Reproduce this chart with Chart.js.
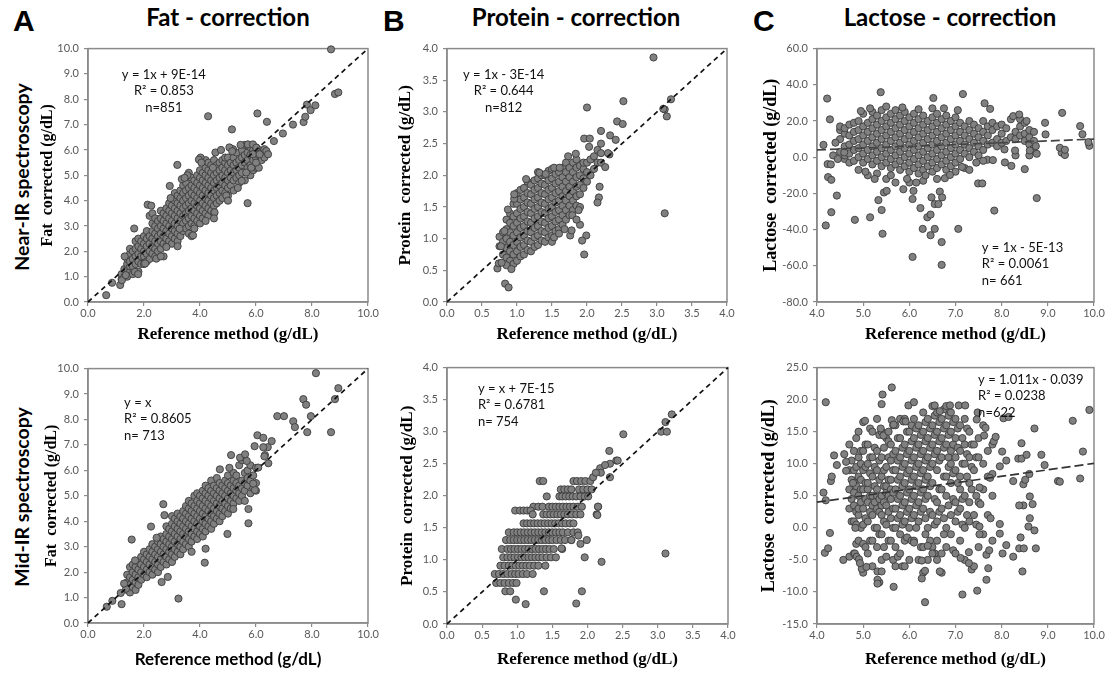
<!DOCTYPE html>
<html><head><meta charset="utf-8">
<script src="https://cdn.jsdelivr.net/npm/chart.js@4.4.1/dist/chart.umd.min.js"></script>
<style>
html,body{margin:0;padding:0;background:#fff;width:1109px;height:674px;overflow:hidden;position:relative}
canvas{position:absolute}
.lbl{position:absolute;white-space:nowrap;color:#000}
.letter{font:bold 30px "Liberation Sans",Arial,sans-serif;line-height:30px}
.title{font:bold 24px Lato,sans-serif;line-height:24px;text-align:center;width:400px}
.row{font:bold 19.5px Lato,sans-serif;text-align:center;width:300px;height:24px;line-height:24px;transform:rotate(-90deg)}
</style></head><body>
<div class="lbl letter" style="left:13px;top:6px">A</div>
<div class="lbl letter" style="left:383px;top:6px">B</div>
<div class="lbl letter" style="left:753px;top:6px">C</div>
<div class="lbl title" style="left:28px;top:5px">Fat - correction</div>
<div class="lbl title" style="left:376px;top:5px">Protein - correction</div>
<div class="lbl title" style="left:750px;top:5px">Lactose - correction</div>
<div class="lbl row" style="left:-128px;top:165px">Near-IR spectroscopy</div>
<div class="lbl row" style="left:-128px;top:485px">Mid-IR spectroscopy</div>
<canvas id="ta"></canvas><canvas id="tb"></canvas><canvas id="tc"></canvas>
<canvas id="ba"></canvas><canvas id="bb"></canvas><canvas id="bc"></canvas>
<script>
// ---------- tick labels ----------
const fatTicksX = [0,2,4,6,8,10];
const fatTicksY = [0,1,2,3,4,5,6,7,8,9,10];
const protTicks = [0,0.5,1,1.5,2,2.5,3,3.5,4];
const lacTicksX = [4,5,6,7,8,9,10];
const lacNirTicksY = [-80,-60,-40,-20,0,20,40,60];
const lacMirTicksY = [-15,-10,-5,0,5,10,15,20,25];

// ---------- fit lines ----------
const fatNirFit = [[0,0],[10,10]];
const protNirFit = [[0,0],[4,4]];
const lacNirFit = [[4,4],[10,10]];
const fatMirFit = [[0,0],[10,10]];
const protMirFit = [[0,0],[4,4]];
const lacMirFit = [[4,4.0],[10,10.07]];

// ---------- annotations ----------
const fatNirNote = ["y = 1x + 9E-14","R\u00b2 = 0.853","n=851"];
const protNirNote = ["y = 1x - 3E-14","R\u00b2 = 0.644","n=812"];
const lacNirNote = ["y = 1x - 5E-13","R\u00b2 = 0.0061","n= 661"];
const fatMirNote = ["y = x","R\u00b2 = 0.8605","n= 713"];
const protMirNote = ["y = x + 7E-15","R\u00b2 = 0.6781","n= 754"];
const lacMirNote = ["y = 1.011x - 0.039","R\u00b2 = 0.0238","n=622"];

// ---------- Fat, near-IR : columns [x, y1, y2, ...] ----------
const fatNirCols = [
[1.2,0.9,1.1],[1.3,1.0,1.3],[1.4,1.0,1.3,1.5,1.7],[1.5,1.2,1.4,1.6,1.9,2.1],[1.6,1.1,1.4,1.7,2.0],
[1.7,1.5,1.8,2.1,2.4],[1.8,1.2,1.6,1.9,2.2,2.5],[1.9,1.5,1.8,2.1,2.4],[2.0,1.5,1.8,2.0,2.3,2.6],
[2.1,1.6,1.9,2.2,2.5,2.8],[2.2,1.7,2.0,2.3,2.6,3.4],[2.3,1.9,2.2,2.5,2.8,3.1,3.5],[2.4,1.8,2.1,2.4,2.7,3.0,3.3],
[2.5,2.0,2.3,2.6,2.9,3.2],[2.6,2.1,2.4,2.7,3.0,3.3,3.6],[2.7,1.8,2.3,2.6,2.9,3.2,3.5],[2.8,2.2,2.5,2.8,3.1,3.4,3.7],
[2.9,2.4,2.7,3.0,3.3,3.6,3.9],[3.0,2.3,2.6,2.9,3.2,3.5,3.8,4.1],[3.1,2.5,2.8,3.1,3.4,3.7,4.0,4.3],
[3.2,2.4,2.7,3.0,3.3,3.6,3.9,4.2],[3.3,2.6,2.9,3.2,3.5,3.8,4.1,4.4],[3.4,2.8,3.1,3.4,3.7,4.0,4.3,4.6],
[3.5,2.9,3.2,3.5,3.8,4.1,4.4,4.7],[3.6,2.7,3.0,3.3,3.6,3.9,4.2,4.5,5.1],[3.7,2.6,3.1,3.4,3.7,4.0,4.3,4.6,4.9],
[3.8,3.0,3.3,3.6,3.9,4.2,4.5,4.8],[3.9,3.2,3.5,3.8,4.1,4.4,4.7,5.0],[4.0,3.1,3.4,3.7,4.0,4.3,4.6,4.9,5.2],
[4.1,3.3,3.6,3.9,4.2,4.5,4.8,5.1],[4.2,3.5,3.8,4.1,4.4,4.7,5.0,5.3,5.6],[4.3,3.4,3.7,4.0,4.3,4.6,4.9,5.2,5.5],
[4.4,3.6,3.9,4.2,4.5,4.8,5.1,5.4],[4.5,3.5,3.8,4.1,4.4,4.7,5.0,5.3,5.6],[4.6,3.9,4.2,4.5,4.8,5.1,5.4],
[4.7,4.0,4.3,4.6,4.9,5.2,5.5],[4.8,4.1,4.4,4.7,5.0,5.3,5.6],[4.9,4.3,4.6,4.9,5.2,5.5,5.7],
[5.0,4.2,4.5,4.8,5.1,5.4,5.7],[5.1,4.6,4.9,5.2,5.5],[5.2,4.4,4.8,5.1,5.4,5.7],[5.3,4.9,5.2,5.5,5.9],
[5.4,4.7,5.0,5.3,5.6],[5.5,5.1,5.4,5.7,6.0],[5.6,4.8,5.5,5.8,6.2],[5.7,5.3,5.6,5.9,6.2],
[5.8,5.0,5.4,5.8,6.1],[5.9,5.2,5.6,6.0],[6.0,5.3,5.7,6.1],[6.1,5.3,5.8,6.0],[6.2,5.6,5.9],[6.3,5.7,5.95]
];
const fatNirOut = [
[0.65,0.27],[0.86,0.76],[1.15,0.67],[1.21,0.86],[1.35,1.06],[1.31,1.8],[1.65,2.9],[2.13,3.84],[2.26,3.8],
[2.92,4.58],[3.19,5.41],[4.02,5.7],[4.29,7.33],[5.14,6.81],[5.49,4.78],[5.7,3.9],[6.05,7.44],[6.39,7.11],
[6.64,6.35],[6.96,6.65],[7.32,7.0],[7.7,7.1],[7.76,7.31],[7.82,7.79],[7.95,7.57],[8.12,7.76],[8.68,9.97],
[8.82,8.21],[8.94,8.27],[3.96,5.62],[4.46,5.3],[5.18,6.03],[5.71,6.22],[5.89,6.22],[6.01,6.09],[5.89,5.83],
[6.13,5.83],[6.3,6.03],[6.37,5.96],[4.94,4.2],[4.52,3.54],[3.75,2.63],[3.27,2.89],[2.44,1.71],[2.04,1.52],
[1.67,1.19],[1.79,1.1],[2.8,2.17],[5.65,5.11],[5.83,5.3],[6.0,5.5],[6.43,5.83],
[3.35,4.85],[3.55,5.0],[4.05,5.5],[4.55,5.9],[4.75,6.0],[5.05,6.1],[4.5,3.3],[5.0,4.0],[5.35,4.5],
[2.6,1.8],[3.2,2.2],[3.8,2.9],[4.2,3.2],[5.15,5.95],[5.45,6.2],[2.95,4.1],[3.45,4.9]
];

// ---------- Protein, near-IR ----------
const protNirCols = [
[0.75,0.88,1.03],[0.8,0.75,0.95,1.1],[0.85,0.7,0.85,1.0,1.15,1.3],[0.9,0.65,0.8,0.95,1.1,1.25,1.4],
[0.95,0.6,0.75,0.9,1.05,1.2,1.35,1.55],[1.0,0.65,0.8,0.95,1.1,1.25,1.4,1.55,1.72],
[1.05,0.72,0.87,1.02,1.17,1.32,1.47,1.62,1.77],[1.1,0.75,0.9,1.05,1.2,1.35,1.5,1.65,1.8],
[1.15,0.82,0.97,1.12,1.27,1.42,1.57,1.72,1.9],[1.2,0.8,0.95,1.1,1.25,1.4,1.55,1.7,1.85],
[1.25,0.87,1.02,1.17,1.32,1.47,1.62,1.77,1.92],[1.3,0.9,1.05,1.2,1.35,1.5,1.65,1.8,1.95,2.05],
[1.35,0.97,1.12,1.27,1.42,1.57,1.72,1.87,2.0],[1.4,0.95,1.1,1.25,1.4,1.55,1.7,1.85,2.0],
[1.45,1.02,1.17,1.32,1.47,1.62,1.77,1.92,2.07],[1.5,0.95,1.05,1.2,1.35,1.5,1.65,1.8,1.95,2.1],
[1.55,1.12,1.27,1.42,1.57,1.72,1.87,2.02],[1.6,1.15,1.3,1.45,1.6,1.75,1.9,2.05],
[1.65,1.22,1.37,1.52,1.67,1.82,1.97,2.12],[1.7,1.3,1.45,1.6,1.75,1.9,2.05,2.2],
[1.75,1.37,1.52,1.67,1.82,1.97,2.12],[1.8,1.45,1.6,1.75,1.9,2.05,2.2],
[1.85,1.52,1.67,1.82,1.97,2.12,2.25],[1.9,1.5,1.7,1.85,2.0,2.15],[1.95,1.8,1.95,2.1,2.2],
[2.0,1.9,2.05,2.2],[2.05,2.0,2.25],[2.1,2.1,2.3],[2.15,2.2,2.4],[2.2,2.2,2.35,2.5]
];
const protNirOut = [
[0.83,0.29],[0.88,0.23],[0.72,0.53],[0.74,0.61],[0.77,0.88],[0.87,1.46],[0.96,1.63],[0.96,1.7],[1.13,1.94],
[1.32,2.04],[1.41,2.02],[1.53,2.12],[1.61,2.12],[1.73,2.3],[1.84,2.34],[1.96,2.58],[2.04,2.58],[2.03,2.45],
[2.33,2.63],[2.43,2.85],[2.51,2.81],[2.41,2.56],[2.32,2.33],[2.26,2.13],[2.18,1.82],[2.17,1.65],[2.15,1.57],
[1.99,1.05],[1.93,0.97],[1.96,0.75],[1.76,1.05],[1.78,1.13],[1.79,1.37],[1.9,1.22],[3.11,1.4],[3.11,3.04],
[3.14,2.93],[2.95,3.86],[3.09,3.05],[3.2,3.2],[2.0,3.07],[2.52,3.17],[2.2,2.7],[2.3,2.35],[0.85,0.58],
[0.92,0.52],[0.78,0.62],[0.82,1.12],[1.53,1.02],[1.6,1.08],[1.68,1.15],[1.85,1.3],[1.88,1.45]
];

// ---------- Lactose, near-IR ----------
const lacNirCols = [
[4.5,3,10,15,17],[4.6,-1,1,6,13,16],[4.7,-3,2,7,12,18],[4.8,-2,4,9,14,19],[4.9,-7,0,5,10,15,20],
[5.0,-3,2,7,12,17,24],[5.1,-10,-1,4,9,14,19],[5.2,-4,1,6,11,16,21,25],[5.3,-9,-2,3,8,13,18,23],
[5.4,-5,0,5,10,15,20,26],[5.5,-12,-3,2,7,12,17,22],[5.6,-6,-1,4,9,14,19,24],[5.7,-14,-4,1,6,11,16,21,26],
[5.8,-7,-2,3,8,13,18,23],[5.9,-5,0,5,10,15,20,25],[6.0,-14,-8,-3,2,7,12,17,22],[6.1,-6,-1,4,9,14,19,24],
[6.2,-9,-4,1,6,11,16,21],[6.3,-13,-7,-2,3,8,13,18,23],[6.4,-5,0,5,10,15,20],[6.5,-8,-3,2,7,12,17,22,27],
[6.6,-6,-1,4,9,14,19,24],[6.7,-4,1,6,11,16,21],[6.8,-7,-2,3,8,13,18,23],[6.9,-5,0,5,10,15,20],
[7.0,-8,-3,2,7,12,17,22],[7.1,-1,4,9,14,19],[7.2,-6,2,7,12,17],[7.3,0,5,10,15,20],[7.4,3,8,13,18],
[7.5,1,6,11,16],[7.6,4,9,14,20],[7.7,7,12,17],[7.8,8,15,19],[7.9,6,10,17],[8.0,8,13,18],[8.1,9,16],
[8.2,11,21],[8.3,1,10,14],[8.4,12,17,21],[8.5,9,13,19],[8.6,1,7,11,15],[8.7,9,14]
];
const lacNirOut = [
[4.22,32.4],[4.28,20.9],[5.38,35.9],[6.52,32.7],[7.16,34.9],[7.63,29.8],[7.75,26.7],[9.31,24.5],[9.7,17.2],
[9.75,12.7],[9.9,6.3],[8.94,19.0],[8.25,22.7],[8.38,23.6],[8.54,20.0],[9.3,2.5],[9.37,1.2],[4.14,6.8],
[4.19,-37.7],[4.31,-30.4],[4.24,-11.0],[4.31,-12.5],[4.23,-3.8],[4.43,-21.2],[4.82,-34.6],[5.15,-33.2],
[5.42,-42.3],[5.4,-29.2],[5.33,-23.7],[5.45,-19.5],[5.51,-18.6],[5.87,-17.7],[6.09,-18.6],[6.07,-55.1],
[6.07,-23.1],[6.24,-28.1],[6.29,-39.6],[6.39,-33.2],[6.46,-31.7],[6.46,-43.1],[6.55,-39.6],[6.7,-59.5],
[6.7,-46.9],[6.66,-19.0],[6.71,-22.2],[7.06,-39.6],[6.55,-25.9],[6.48,-22.2],[6.63,-25.9],[6.77,-11.6],
[6.88,-9.8],[7.14,-5.4],[7.49,-14.5],[7.58,-14.5],[7.84,-29.5],[7.69,-1.4],[7.81,-1.6],[8.07,-2.9],
[8.21,-4.8],[8.5,-6.6],[8.76,-22.6],[8.68,4.6],[8.74,6.1],[8.61,3.7],[8.76,1.9],[8.06,4.3],[8.29,3.7],
[8.95,12.6],[9.26,5.2],[9.37,4.1],[9.88,8.3],[4.35,1.0],[4.4,8.0],[4.45,-1.0],[4.3,-4.0],[4.59,2.6],
[5.05,-8],[5.25,-12],[5.6,-10],[5.95,-12],[6.15,-14],[6.35,-10],[6.6,-12],[7.3,-7],[7.45,-3],[7.6,-2],
[5.15,27],[5.5,28],[5.85,27.5],[6.2,26.5],[6.75,27],[7.05,26],[4.95,25.5]
];

// ---------- Fat, mid-IR ----------
const fatMirCols = [
[1.4,1.3,1.6,1.9],[1.5,1.2,1.5,1.8,2.2],[1.6,1.4,1.7,2.0,2.3],[1.7,1.3,1.6,1.9,2.2],[1.8,1.5,1.8,2.1,2.4],
[1.9,1.7,2.0,2.3,2.6],[2.0,1.9,2.2,2.5,2.8],[2.1,1.8,2.1,2.4,2.7],[2.2,2.0,2.3,2.6,2.9],
[2.3,1.9,2.2,2.5,2.8,3.1],[2.4,2.1,2.4,2.7,3.0],[2.5,2.0,2.3,2.6,2.9,3.2],[2.6,2.2,2.5,2.8,3.1,3.4],
[2.7,2.4,2.7,3.0,3.3],[2.8,2.3,2.6,2.9,3.2,3.5,3.8],[2.9,2.5,2.8,3.1,3.4,3.7],[3.0,2.4,2.7,3.0,3.3,3.6,3.9,4.2],
[3.1,2.6,2.9,3.2,3.5,3.8,4.1],[3.2,2.8,3.1,3.4,3.7,4.0,4.3],[3.3,2.7,3.0,3.3,3.6,3.9,4.2],
[3.4,2.9,3.2,3.5,3.8,4.1,4.4],[3.5,3.1,3.4,3.7,4.0,4.3,4.6],[3.6,3.0,3.3,3.6,3.9,4.2,4.5,4.8],
[3.7,2.8,3.2,3.5,3.8,4.1,4.4,4.7],[3.8,3.4,3.7,4.0,4.3,4.6,5.0],[3.9,3.3,3.6,3.9,4.2,4.5,4.8,5.1],
[4.0,3.5,3.8,4.1,4.4,4.7,5.0],[4.1,3.4,3.7,4.0,4.3,4.6,4.9,5.2],[4.2,3.6,3.9,4.2,4.5,4.8,5.1,5.4],
[4.3,3.8,4.1,4.4,4.7,5.0,5.3],[4.4,3.7,4.0,4.3,4.6,4.9,5.2,5.6],[4.5,3.9,4.2,4.5,4.8,5.1,5.4],
[4.6,4.1,4.4,4.7,5.0,5.3,5.7],[4.7,4.0,4.3,4.6,4.9,5.2,5.5],[4.8,4.2,4.5,4.8,5.1,5.4],
[4.9,4.4,4.7,5.0,5.3,5.6],[5.0,4.3,4.6,4.9,5.2,5.5,5.8],[5.1,4.5,4.8,5.1,5.4],[5.2,4.7,5.0,5.3,5.6,5.9],
[5.3,4.9,5.2,5.5,5.8],[5.4,4.8,5.1,5.4,6.2],[5.5,5.0,5.3,5.6,6.4],[5.6,4.8,5.2,5.5,5.9],[5.7,5.4,5.7,6.0],
[5.8,5.1,5.6,6.2],[5.9,5.3,5.8],[6.0,5.2,5.5,6.1]
];
const fatMirOut = [
[0.67,0.64],[0.87,0.87],[1.2,0.74],[1.17,1.18],[1.36,1.35],[1.29,1.55],[1.56,3.28],[1.68,2.46],[2.25,3.79],
[2.45,3.35],[2.69,4.67],[2.73,4.24],[3.23,0.96],[2.85,1.81],[2.63,1.61],[4.17,2.37],[4.2,2.92],[4.71,6.04],
[5.11,6.6],[5.05,6.1],[4.98,3.5],[5.73,3.92],[5.43,6.5],[5.61,6.63],[5.67,6.37],[5.95,6.95],[6.05,7.38],
[6.26,7.28],[6.56,7.15],[6.42,6.91],[6.32,6.6],[6.26,6.91],[6.44,6.28],[6.08,6.11],[5.96,5.23],[5.9,5.48],
[6.76,8.13],[7.0,8.13],[7.33,7.93],[7.39,7.7],[7.69,8.8],[7.79,8.58],[7.96,8.13],[7.83,7.5],[8.14,9.82],
[8.68,7.5],[8.82,8.8],[8.94,9.23],[5.73,4.48],[5.19,4.48],[6.3,6.55]
];

// ---------- Protein, mid-IR : rows [y, x1, x2, ...] ----------
const protMirRows = [
[2.23,1.32,1.37,1.8,1.85,1.91,1.97,2.04],
[2.1,1.62,1.67,1.72,1.77,1.88,1.94,2.0,2.06],
[1.99,1.42,1.6,1.64,1.69,1.74,1.79,1.84,1.9,1.96,2.01],
[1.83,1.23,1.3,1.36,1.45,1.5,1.55,1.6,1.65,1.7,1.75,1.8,1.86,1.92,2.15],
[1.77,0.97,1.04,1.09,1.14,1.19],
[1.71,1.22,1.37,1.42,1.47,1.52,1.57,1.62,1.67,1.72,1.78,1.84,1.9,2.13],
[1.57,1.09,1.14,1.19,1.24,1.29,1.34,1.39,1.44,1.49,1.54,1.59,1.64,1.69,1.75,1.8],
[1.43,0.88,0.95,1.0,1.05,1.1,1.15,1.2,1.25,1.3,1.35,1.4,1.45,1.5,1.55,1.6,1.65,1.72,1.8,1.86],
[1.31,0.84,0.9,0.95,1.0,1.05,1.1,1.15,1.2,1.25,1.3,1.35,1.4,1.45,1.5,1.56,1.62,1.68,1.77,1.99],
[1.17,0.78,0.86,0.91,0.96,1.01,1.06,1.11,1.16,1.21,1.26,1.31,1.36,1.41,1.46,1.52,1.64],
[1.04,0.8,0.86,0.91,0.96,1.01,1.06,1.11,1.16,1.21,1.26,1.31,1.36,1.42,1.48,1.55],
[0.91,0.76,0.82,0.88,0.93,0.98,1.03,1.08,1.13,1.18,1.24,1.3,1.4],
[0.78,0.68,0.74,0.8,0.86,0.92,0.97,1.02,1.08,1.14,1.22],
[0.64,0.7,0.76,0.82,0.88,0.94,0.99],
[0.51,0.83,0.9]
];
const protMirOut = [
[0.98,0.38],[1.12,0.31],[1.38,0.51],[1.84,0.32],[1.92,0.51],[1.96,1.04],[2.2,0.97],[3.11,1.1],[2.51,2.96],
[2.31,2.7],[2.32,2.5],[2.41,2.55],[2.43,2.55],[2.32,2.29],[2.18,2.43],[2.19,2.36],[2.14,1.7],[2.15,1.83],
[3.05,3.0],[3.13,3.0],[3.11,3.15],[3.2,3.27],[2.25,2.48],[2.08,2.29],[2.12,2.36],[1.9,1.25],[1.87,1.38],
[1.77,1.31],[1.63,1.18]
];

// ---------- Lactose, mid-IR ----------
const lacMirCols = [
[4.7,-4.5,3,6,9,13],[4.75,1,4.5,7.5,10.5],[4.8,-4,1,3.5,5.5,7,9,12],[4.85,-2.5,0.5,2.5,6.5,9.5,14],
[4.9,-2,2,3,5,8,11,15],[4.95,0,4,6,7.5,10,12],[5.0,-7,-2.5,0.5,3,6,9,12,16.5],[5.05,-3,1.5,4.5,7,9.5,13],
[5.1,-4,1,4,6,7,10,13],[5.15,-2,2.5,5,8.5,11,15.5],[5.2,-6,-2,2,3.5,5,8,11,15],[5.25,0,4,6.5,9.5,12.5],
[5.3,-3,0,3,5,6,9,12,17],[5.35,-8.5,-1,2.5,4.5,7.5,10.5,14.5],[5.4,-5,-1,2,3.5,5,8,11,15],
[5.45,-3,1,4,6.5,9,12.5],[5.5,-4.5,0.5,3.5,5.5,6.5,9.5,14],[5.55,-2,2.5,5,7.5,11,13.5],
[5.6,-2,1.5,4.5,6,7.5,10.5,13],[5.65,-5,0,3,5.5,9,11.5,16],[5.7,-6,-3,0,3,6,9,12,16],
[5.75,-4.5,1.5,4.5,7.5,10.5,14],[5.8,-4,-1,2,5,8,11,14,17],[5.85,-6,0.5,3.5,6.5,9.5,12.5],
[5.9,-6,-2,1,4,7,10,13,17],[5.95,-1.5,2.5,5.5,8.5,11.5,15],[6.0,-5,0,3,6,9,12,15],
[6.05,-2,1.5,4.5,7.5,10.5,13.5,16],[6.1,-2,2,5,8,11,14,17],[6.15,0,3.5,6.5,9.5,12.5,15.5],
[6.2,-5,1,4,7,10,13,16],[6.25,-3,2.5,5.5,8.5,11.5,14.5],[6.3,-7,-3,3,6,9,12,15,18],
[6.35,-1,1.5,4.5,7.5,10.5,13.5,16.5],[6.4,-5,0,5,8,11,14,17],[6.45,-2,2.5,6.5,9.5,12.5,15.5],
[6.5,-3,2,7,10,13,16,19],[6.55,-4,0.5,4.5,11.5,14.5,17.5],[6.6,-2,1,4,9,12,15,18],[6.65,2.5,6,10.5,13.5,16.5],
[6.7,-7,-4,3,6,11,14,17],[6.75,-1,1.5,8,12.5,15.5,18.5],[6.8,-3,0,5,8,13,16,19],[6.85,3.5,9.5,11,14.5,17.5],
[6.9,-1,2,7,10,12,15,18],[6.95,-3.5,4.5,8.5,13,16.5],[7.0,-4,1,4,9,11,14,17],[7.05,2.5,7,12.5,15.5],
[7.1,-2,3,6,8,12,16],[7.15,0.5,4.5,10,14],[7.2,-5,0,5,10,13,17],[7.25,2,8,11.5,15.5],[7.3,1,4,7,11,15],
[7.35,-6.5,6,9.5,13],[7.4,-6,2,9,13],[7.45,0.5,5,11],[7.5,-3,4,11,14],[7.6,-1,6,10,16],[7.7,2,8,12],[7.8,-2,5,13]
];
const lacMirOut = [
[4.19,19.6],[4.14,5.5],[4.19,4.3],[4.17,-3.9],[4.24,-3.2],[4.28,-0.8],[4.3,7.3],[4.37,11.3],[4.43,9.8],
[4.32,8.0],[4.57,-5.0],[4.59,11.5],[4.63,10.3],[4.63,8.9],[4.82,-4.0],[4.86,-4.5],[4.91,-4.9],[4.83,0.0],
[4.78,7.0],[5.04,16.7],[4.97,-6.4],[5.07,-6.1],[4.93,-5.5],[5.31,-8.1],[5.31,-8.7],[5.31,-6.8],[5.4,-6.8],
[5.4,19.3],[5.42,20.8],[5.62,21.9],[5.38,15.5],[5.44,14.4],[5.55,15.0],[5.66,-9.2],[5.62,16.8],[5.66,16.1],
[5.87,16.6],[5.92,16.6],[5.98,19.1],[6.1,19.6],[6.34,-11.6],[6.27,-7.9],[6.27,-5.1],[6.34,-6.7],[6.55,19.1],
[6.66,18.2],[6.88,19.1],[7.07,19.1],[7.21,19.1],[7.48,18.0],[7.46,16.9],[7.47,-9.8],[7.15,-10.4],[6.66,-6.8],
[7.11,-4.7],[7.29,-5.5],[7.29,-3.8],[7.67,-8.1],[7.71,-6.3],[7.67,-4.2],[7.52,-1.0],[7.52,0.2],[7.54,3.7],
[7.52,6.3],[7.62,14.4],[7.65,15.6],[7.73,-3.5],[7.76,1.5],[7.96,-0.9],[8.02,-4.0],[8.1,-2.7],[7.96,0.6],
[8.01,11.9],[7.83,13.5],[7.87,14.2],[8.04,17.1],[8.15,17.3],[7.96,9.6],[8.25,-4.5],[8.38,-3.2],[8.47,3.5],
[8.38,3.5],[8.41,-1.5],[8.48,-3.2],[8.45,-6.8],[8.25,7.3],[8.36,10.8],[8.43,10.8],[8.43,13.2],[8.61,1.5],
[8.58,0.2],[8.47,6.8],[8.51,7.5],[8.54,11.4],[8.61,4.9],[8.67,3.7],[8.6,8.4],[8.71,15.5],[8.71,-0.4],
[8.74,-3.2],[8.86,11.4],[8.93,9.8],[9.22,7.3],[9.26,7.2],[9.54,16.7],[9.7,7.7],[9.76,11.9],[9.9,18.4],
[7.8,8.4],[7.75,7.8],[8.1,10.5],[6.1,-2.3],[6.4,-2.8],[6.5,-4],[6.6,-5]
];

// ---------- helpers ----------
const fromCols = c => c.flatMap(r => r.slice(1).map(y => ({x:r[0], y})));
const fromRows = c => c.flatMap(r => r.slice(1).map(x => ({x, y:r[0]})));
const fromPairs = p => p.map(q => ({x:q[0], y:q[1]}));

const SERIF = '"Liberation Serif","Times New Roman",serif';
const SANS = 'Lato, "Open Sans", sans-serif';

const framePlugin = {
  id:'frame',
  beforeDatasetsDraw(chart){
    const {ctx, chartArea:a} = chart;
    ctx.save(); ctx.strokeStyle='#8a8a8a'; ctx.lineWidth=1.5;
    ctx.strokeRect(a.left, a.top, a.right-a.left, a.bottom-a.top);
    ctx.restore();
  },
  afterDatasetsDraw(chart, args, opts){
    const n = opts.note; if(!n) return;
    const ctx = chart.ctx;
    const px = chart.scales.x.getPixelForValue(n.x), py = chart.scales.y.getPixelForValue(n.y);
    ctx.save(); ctx.font = '13px ' + SANS; ctx.fillStyle='#111';
    ctx.textAlign = n.align; ctx.textBaseline='middle';
    n.lines.forEach((t,i) => ctx.fillText(t, px, py + i*16.5));
    ctx.restore();
  }
};

function panel(id, g, s){
  const cv = document.getElementById(id);
  cv.width = g.w; cv.height = g.h; cv.style.left = g.x+'px'; cv.style.top = g.y+'px';
  const gridOpt = {display:true, drawOnChartArea:false, drawTicks:true, tickLength:4, color:'#8a8a8a', lineWidth:1.2};
  const tickFont = {family: SANS, size: 11};
  new Chart(cv, {
    type:'scatter',
    data:{datasets:[
      {type:'line', data: fromPairs(s.fit), borderColor: s.fitColor, borderDash: s.dash, borderWidth:1.7,
       pointRadius:0, fill:false, clip:false, tension:0},
      {data: s.points, backgroundColor:'#808080', borderColor:'#3c3c3c', borderWidth:0.9, pointRadius:3.6, clip:false}
    ]},
    options:{
      responsive:false, animation:false, events:[],
      layout:{padding:{top:10, right:16, left:0, bottom:0}},
      plugins:{legend:{display:false}, tooltip:{enabled:false}, frame:{note:s.note}},
      scales:{
        x:{type:'linear', min:s.xt[0], max:s.xt[s.xt.length-1],
           afterBuildTicks: sc => { sc.ticks = s.xt.map(v => ({value:v})); },
           afterFit: sc => { sc.height = g.hx; },
           grid:gridOpt, border:{display:true, color:'#8a8a8a', width:1.5},
           ticks:{font:tickFont, color:'#595959', padding:1, maxRotation:0, autoSkip:false, callback:v => Number(v).toFixed(1)},
           title:{display:true, text:'Reference method (g/dL)', color:'#000', padding:0,
                  font:{family: s.xFont || SERIF, size:17, weight:'bold'}}},
        y:{type:'linear', min:s.yt[0], max:s.yt[s.yt.length-1],
           afterBuildTicks: sc => { sc.ticks = s.yt.map(v => ({value:v})); },
           afterFit: sc => { sc.width = g.wy; },
           grid:gridOpt, border:{display:true, color:'#8a8a8a', width:1.5},
           ticks:{font:tickFont, color:'#595959', padding:5, autoSkip:false, callback:v => Number(v).toFixed(1)},
           title:{display:true, text:s.yTitle, color:'#000', padding:0,
                  font:{family:SERIF, size:s.yFontSize, weight:'bold'}}}
      }
    },
    plugins:[framePlugin]
  });
}

const DASH = [5,4], LONG = [9,4];

panel('ta', {x:38, y:37, w:346, h:308, wy:50, hx:43}, {
  xt:fatTicksX, yt:fatTicksY, fit:fatNirFit, dash:DASH, fitColor:'#111',
  points: fromCols(fatNirCols).concat(fromPairs(fatNirOut)),
  yTitle:'Fat  corrected (g/dL)', yFontSize:16,
  note:{x:2.71, y:8.98, align:'center', lines:fatNirNote}});
panel('tb', {x:395, y:37, w:348, h:308, wy:52, hx:43}, {
  xt:protTicks, yt:protTicks, fit:protNirFit, dash:DASH, fitColor:'#111',
  points: fromCols(protNirCols).concat(fromPairs(protNirOut)),
  yTitle:'Protein  corrected (g/dL)', yFontSize:17,
  note:{x:0.81, y:3.59, align:'center', lines:protNirNote}});
panel('tc', {x:761, y:37, w:349, h:308, wy:56, hx:43}, {
  xt:lacTicksX, yt:lacNirTicksY, fit:lacNirFit, dash:LONG, fitColor:'#444',
  points: fromCols(lacNirCols).concat(fromPairs(lacNirOut)),
  yTitle:'Lactose  corrected (g/dL)', yFontSize:18,
  note:{x:7.57, y:-49.8, align:'left', lines:lacNirNote}});
panel('ba', {x:42, y:357, w:342, h:313, wy:46, hx:47}, {
  xt:fatTicksX, yt:fatTicksY, fit:fatMirFit, dash:DASH, fitColor:'#111',
  points: fromCols(fatMirCols).concat(fromPairs(fatMirOut)),
  yTitle:'Fat  corrected (g/dL)', yFontSize:16, xFont:SANS,
  note:{x:1.29, y:8.67, align:'left', lines:fatMirNote}});
panel('bb', {x:397, y:356, w:347, h:314, wy:50, hx:46}, {
  xt:protTicks, yt:protTicks, fit:protMirFit, dash:DASH, fitColor:'#111',
  points: fromRows(protMirRows).concat(fromPairs(protMirOut)),
  yTitle:'Protein  corrected (g/dL)', yFontSize:17,
  note:{x:0.44, y:3.67, align:'left', lines:protMirNote}});
panel('bc', {x:759, y:356, w:351, h:314, wy:58, hx:46}, {
  xt:lacTicksX, yt:lacMirTicksY, fit:lacMirFit, dash:LONG, fitColor:'#333',
  points: fromCols(lacMirCols).concat(fromPairs(lacMirOut)),
  yTitle:'Lactose  corrected (g/dL)', yFontSize:18,
  note:{x:7.49, y:23.1, align:'left', lines:lacMirNote}});
</script>
</body></html>
